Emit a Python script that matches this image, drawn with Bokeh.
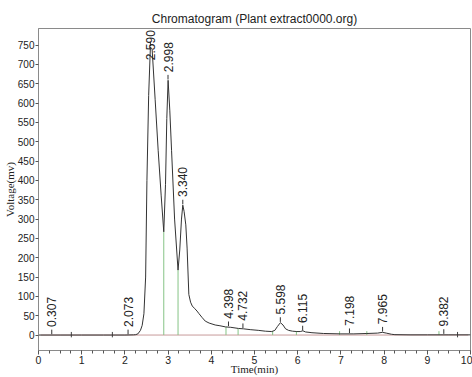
import math
from bokeh.plotting import figure
from bokeh.models import FixedTicker
from bokeh.core.properties import value
from bokeh.embed import file_html
from bokeh.resources import INLINE

# ---- data ----
time_min = [0.0, 0.5, 1.0, 1.5, 2.0, 2.2, 2.25, 2.3, 2.36, 2.40, 2.44, 2.48, 2.51, 2.55,
            2.59, 2.63, 2.70, 2.77, 2.84, 2.90, 2.94, 2.97, 3.00, 3.04, 3.08, 3.15, 3.23,
            3.27, 3.31, 3.34, 3.37, 3.41, 3.44, 3.48, 3.52, 3.56, 3.62, 3.67, 3.71, 3.79,
            3.86, 3.95, 4.09, 4.2, 4.33, 4.45, 4.63, 4.75, 4.9, 5.1, 5.25, 5.40, 5.47, 5.53,
            5.60, 5.66, 5.72, 5.79, 5.88, 5.98, 6.06, 6.12, 6.18, 6.33, 6.6, 7.0, 7.3, 7.6,
            7.85, 7.96, 8.05, 8.17, 8.25, 8.6, 9.0, 9.5, 10.0]
voltage_mv = [0, 0, 0, 0, 0, 0.5, 1, 3, 12, 25, 55, 150, 400, 620,
              745, 740, 610, 478, 360, 267, 390, 560, 659, 580, 478, 300, 168,
              220, 300, 336, 320, 285, 225, 105, 85, 75, 68, 62, 56, 45,
              36, 31, 26, 24, 21, 20, 17, 16, 14, 12, 10, 9, 12, 22,
              32, 26, 16, 12, 10, 9, 9, 11, 8, 6, 4, 3, 3, 4,
              5, 7, 5, 2, 1, 0.5, 0.5, 0.5, 0.5]

peak_times = [0.307, 2.073, 2.590, 2.998, 3.340, 4.398, 4.732, 5.598, 6.115, 7.198, 7.965, 9.382]
peak_heights = [0, 0, 745, 659, 336, 21, 16, 32, 10, 3, 7, 1]

bound_times = [2.90, 3.23, 4.34, 4.62, 5.42, 5.97, 6.97, 7.60, 9.27]
bound_heights = [267, 168, 21, 17, 9, 9, 3, 4, 1]

event_times = [0.76, 1.71, 9.70]

x_ticks = [0, 1, 2, 3, 4, 5, 6, 7, 8, 9, 10]
x_minor = [i * 0.25 for i in range(41)]
y_ticks = [0, 50, 100, 150, 200, 250, 300, 350, 400, 450, 500, 550, 600, 650, 700, 750]

title_text = "Chromatogram (Plant extract0000.org)"
x_label = "Time(min)"
y_label = "Voltage(mv)"

Y_MIN, Y_MAX = -40, 793

p = figure(width=472, height=377, x_range=(0, 10), y_range=(Y_MIN, Y_MAX),
           output_backend="svg", toolbar_location=None, title=title_text,
           min_border_left=36, min_border_right=2, min_border_top=28, min_border_bottom=27)
p.title.align = "center"
p.title.text_font = "Liberation Sans"
p.title.text_font_size = "12px"
p.title.text_font_style = "normal"
p.title.text_color = "#222222"
p.title.standoff = 5
p.grid.visible = False
p.outline_line_color = "#8a8a8a"
p.background_fill_color = "white"
p.border_fill_color = "white"

for ax in (p.xaxis[0], p.yaxis[0]):
    ax.axis_line_color = "#8a8a8a"
    ax.major_tick_line_color = "#555555"
    ax.minor_tick_line_color = "#555555"
    ax.major_label_text_font = "Liberation Sans"
    ax.major_label_text_font_size = "10.5px"
    ax.major_label_text_color = "#222222"
    ax.major_tick_in = 0
    ax.minor_tick_in = 0
    ax.axis_label_text_font = "Liberation Serif"
    ax.axis_label_text_font_size = "11px"
    ax.axis_label_text_font_style = "normal"
    ax.axis_label_text_color = "#222222"

p.xaxis.ticker = FixedTicker(ticks=x_ticks, minor_ticks=x_minor)
p.xaxis.major_tick_out = 4
p.xaxis.minor_tick_out = 3
p.xaxis.major_label_standoff = 1
p.xaxis.axis_label = x_label
p.xaxis.axis_label_standoff = -4
p.yaxis.ticker = FixedTicker(ticks=y_ticks)
p.yaxis.major_label_text_font_size = "10px"
p.yaxis.major_tick_out = 3
p.yaxis.minor_tick_line_color = None
p.yaxis.major_label_standoff = 1
p.yaxis.axis_label = y_label
p.yaxis.axis_label_standoff = -1

# baseline
p.line(x=[0.05, 9.95], y=[0, 0], line_color="#c79a9a", line_width=1)

# peak boundary markers
p.segment(x0=bound_times, y0=[0] * len(bound_times), x1=bound_times,
          y1=[max(h, 10) for h in bound_heights], line_color="#86c486", line_width=1)

# event ticks on baseline
p.segment(x0=event_times, y0=[-6] * len(event_times), x1=event_times,
          y1=[8] * len(event_times), line_color="#444444", line_width=1)

# chromatogram trace
p.line(x=time_min, y=voltage_mv, line_color="#333333", line_width=1)

# peak ticks and labels
tick_y0 = [h + 2 for h in peak_heights]
tick_y1 = [h + 14 for h in peak_heights]
p.segment(x0=peak_times, y0=tick_y0, x1=peak_times, y1=tick_y1, line_color="#333333", line_width=1)
label_y = [min(h + 21, Y_MAX - 82) for h in peak_heights]
p.text(x=peak_times, y=label_y, text=["%.3f" % t for t in peak_times], angle=math.pi / 2,
       text_align="left", text_baseline="middle", text_font=value("Liberation Sans"),
       text_font_size="12px", text_color="#222222")

open("out.html", "w").write(file_html(p, INLINE))
